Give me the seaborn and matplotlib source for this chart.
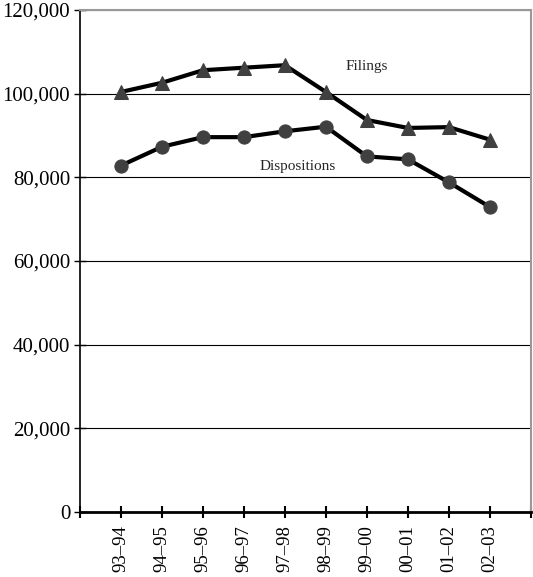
import pandas as pd
import seaborn as sns
import matplotlib.pyplot as plt
from matplotlib.ticker import FuncFormatter

# Data
years = ["93–94", "94–95", "95–96", "96–97", "97–98",
         "98–99", "99–00", "00–01", "01–02", "02–03"]
filings = [100400, 102600, 105600, 106200, 106800,
           100400, 93700, 91800, 92000, 89000]
dispositions = [82800, 87300, 89600, 89600, 91000,
                92100, 85000, 84300, 78800, 72900]


def main():
    df = pd.DataFrame({"year": years, "Filings": filings,
                       "Dispositions": dispositions})
    df["pos"] = range(len(years))

    sns.set_style("white")
    plt.rcParams["font.family"] = ["Liberation Serif", "DejaVu Serif"]

    fig = plt.figure(figsize=(5.33, 5.77), dpi=100)
    ax = fig.add_axes([0.150, 0.1127, 0.846, 0.870])

    # Lines with markers
    sns.lineplot(data=df, x="pos", y="Filings", ax=ax, color="black",
                 linewidth=3, marker="^", markersize=10,
                 markerfacecolor="#404040", markeredgecolor="#404040")
    sns.lineplot(data=df, x="pos", y="Dispositions", ax=ax, color="black",
                 linewidth=3, marker="o", markersize=9.5,
                 markerfacecolor="#404040", markeredgecolor="#404040")

    ax.text(6.0, 106400, "Filings", fontsize=11, ha="center", va="center")
    ax.text(4.32, 82700, "Dispositions", fontsize=11, ha="center", va="center")

    # Axes
    ax.set_xlim(-1, 10)
    ax.set_ylim(0, 120000)
    ax.set_xticks(range(-1, 11))
    ax.set_xticklabels([""] + years + [""], rotation=90, fontsize=13.5)
    ax.set_yticks(range(0, 120001, 20000))
    ax.yaxis.set_major_formatter(FuncFormatter(lambda v, p: f"{int(v):,}"))
    ax.tick_params(axis="y", left=True, labelsize=15, direction="inout",
                   length=8, width=1, pad=3, colors="black")
    ax.tick_params(axis="x", bottom=True, direction="inout", length=9,
                   width=1.5, pad=5, colors="black")
    ax.set_xlabel("")
    ax.set_ylabel("")

    ax.yaxis.grid(True, color="black", linewidth=0.8)
    ax.set_axisbelow(True)

    ax.spines["left"].set_color("black")
    ax.spines["left"].set_linewidth(1.2)
    ax.spines["bottom"].set_color("black")
    ax.spines["bottom"].set_linewidth(2)
    ax.spines["top"].set_color("#999999")
    ax.spines["top"].set_linewidth(1.5)
    ax.spines["right"].set_color("#999999")
    ax.spines["right"].set_linewidth(1.5)

    plt.savefig("out.png", dpi=100)


if __name__ == "__main__":
    main()
